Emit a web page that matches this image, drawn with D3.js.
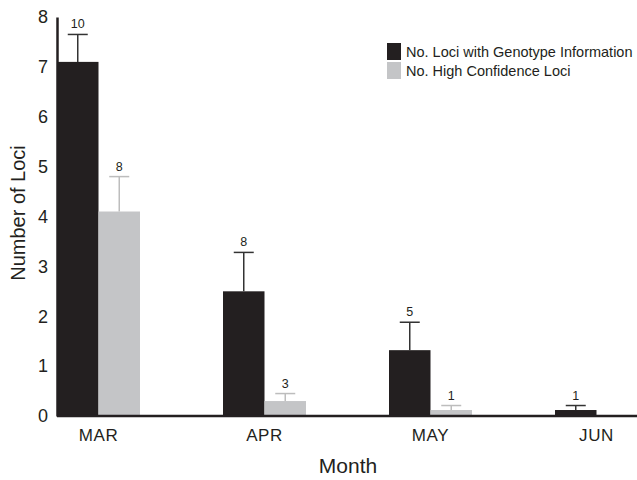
<!DOCTYPE html>
<html><head><meta charset="utf-8">
<script src="https://cdn.jsdelivr.net/npm/d3@7"></script>
<style>body{margin:0;background:#fff}svg{display:block;font-family:"Liberation Sans",Arial,sans-serif}</style>
</head><body>
<svg id="c" width="637" height="480"></svg>
<script>
const months = ["MAR","APR","MAY","JUN"];
const seriesNames = ["No. Loci with Genotype Information","No. High Confidence Loci"];
const genotypeValues = [7.1, 2.5, 1.32, 0.12];
const genotypeErrors = [0.55, 0.78, 0.56, 0.09];
const genotypeCounts = ["10","8","5","1"];
const confidentValues = [4.1, 0.3, 0.12, 0];
const confidentErrors = [0.7, 0.15, 0.09, 0];
const confidentCounts = ["8","3","1",""];
const yTicks = [0,1,2,3,4,5,6,7,8];
const colors = ["#231f20","#c4c5c7"];
const errColors = ["#333","#bdbdbd"];

const svg = d3.select("#c");
const x0 = d3.scaleBand().domain(months).range([57,638]).paddingInner(0.5).paddingOuter(0).align(0);
const x1 = d3.scaleBand().domain([0,1]).range([0,x0.bandwidth()]);
const y = d3.scaleLinear().domain([0,8]).range([416,17]);

const series = [
  {vals:genotypeValues, errs:genotypeErrors, counts:genotypeCounts},
  {vals:confidentValues, errs:confidentErrors, counts:confidentCounts}
];

series.forEach((s,si)=>{
  const g = svg.append("g");
  months.forEach((m,i)=>{
    const v = s.vals[i];
    const cx = x0(m)+x1(si)+x1.bandwidth()/2;
    if (v>0) {
      g.append("rect").attr("x",x0(m)+x1(si)).attr("width",x1.bandwidth())
        .attr("y",y(v)).attr("height",y(0)-y(v)).attr("fill",colors[si]);
    }
    if (s.errs[i]>0) {
      const top = y(v+s.errs[i]);
      g.append("line").attr("x1",cx).attr("x2",cx).attr("y1",y(v)).attr("y2",top)
        .attr("stroke",errColors[si]).attr("stroke-width",1.5);
      g.append("line").attr("x1",cx-10).attr("x2",cx+10).attr("y1",top).attr("y2",top)
        .attr("stroke",errColors[si]).attr("stroke-width",1.5);
      g.append("text").attr("x",cx).attr("y",top-6).attr("text-anchor","middle")
        .attr("font-size",12.5).attr("fill","#231f20").text(s.counts[i]);
    }
  });
});

// axes
const yAxis = d3.axisLeft(y).tickValues(yTicks).tickSize(0).tickPadding(9);
const ya = svg.append("g").attr("transform","translate(57,0)").call(yAxis);
ya.select(".domain").attr("stroke","#231f20").attr("stroke-width",2.5);
ya.selectAll("text").attr("font-size",18).attr("fill","#231f20").attr("font-family","Liberation Sans, Arial, sans-serif");

const xAxis = d3.axisBottom(x0).tickSize(0).tickPadding(13);
const xa = svg.append("g").attr("transform","translate(0,416)").call(xAxis);
xa.select(".domain").attr("stroke","#231f20").attr("stroke-width",2.5).attr("d","M57,0H637");
xa.selectAll("text").attr("font-size",17).attr("letter-spacing",0.6).attr("fill","#231f20").attr("font-family","Liberation Sans, Arial, sans-serif");

svg.append("text").attr("x",348).attr("y",473).attr("text-anchor","middle")
  .attr("font-size",21).attr("fill","#231f20").text("Month");
svg.append("text").attr("transform","translate(25,213) rotate(-90)").attr("text-anchor","middle")
  .attr("font-size",20).attr("fill","#231f20").text("Number of Loci");

// legend
const leg = svg.append("g").attr("transform","translate(387,43)");
seriesNames.forEach((n,i)=>{
  leg.append("rect").attr("x",0).attr("y",i*19).attr("width",14).attr("height",17).attr("fill",colors[i]);
  leg.append("text").attr("x",19).attr("y",i*19+14).attr("font-size",14.5).attr("fill","#231f20").text(n);
});
</script>
</body></html>
